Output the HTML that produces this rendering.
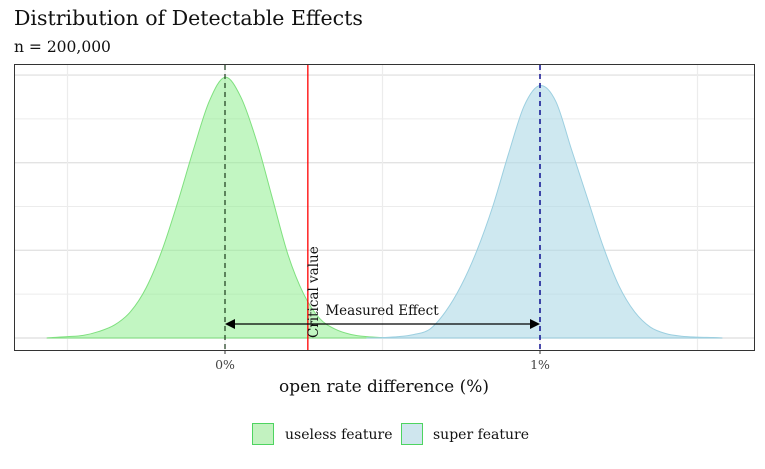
<!DOCTYPE html>
<html><head><meta charset="utf-8"><style>
body{margin:0;background:#fff;}
svg text{font-family:"DejaVu Serif","Liberation Serif",serif;}
</style></head><body>
<svg id="chart" width="765" height="464" xmlns="http://www.w3.org/2000/svg">
<text x="14" y="25" font-size="20.5" fill="#111">Distribution of Detectable Effects</text>
<text x="14" y="52" font-size="15.5" fill="#111">n = 200,000</text>
<g id="grid"></g>
<g id="marks"></g>
<rect x="14.5" y="64.5" width="740" height="286" fill="none" stroke="#333" stroke-width="1"/>
<g id="axis"></g>
<text x="384" y="392" font-size="17" text-anchor="middle" fill="#111">open rate difference (%)</text>
<g>
<rect x="252.5" y="423.5" width="21" height="21" fill="#c2f2c0" stroke="#4ed460"/>
<text x="285" y="439" font-size="14" fill="#111">useless feature</text>
<rect x="401.5" y="423.5" width="21" height="21" fill="#cfe6ee" stroke="#4ed460"/>
<text x="433" y="439" font-size="14" fill="#111">super feature</text>
</g>
</svg>
<script>
const xUseless=[-0.565,-0.55,-0.5,-0.45,-0.4,-0.35,-0.3,-0.25,-0.2,-0.15,-0.1,-0.05,0,0.05,0.1,0.15,0.2,0.25,0.3,0.35,0.4,0.45,0.5,0.55];
const yUseless=[0,0.01,0.03,0.06,0.15,0.3,0.6,1.15,2.0,3.1,4.3,5.4,5.95,5.5,4.5,3.2,1.9,1.0,0.45,0.2,0.08,0.03,0.01,0];
const xSuper=[0.45,0.5,0.55,0.6,0.65,0.7,0.75,0.8,0.85,0.9,0.95,1.0,1.05,1.1,1.15,1.2,1.25,1.3,1.35,1.4,1.45,1.5,1.55,1.578];
const ySuper=[0,0.01,0.03,0.08,0.2,0.6,1.2,2.0,3.0,4.2,5.3,5.76,5.4,4.3,3.2,2.1,1.2,0.6,0.25,0.1,0.04,0.02,0.01,0];
const xTicks=[0,1];
const xTickLabels=["0%","1%"];
const xMinor=[-0.5,0.5,1.5];
const yGrid=[0,1,2,3,4,5,6];
const criticalValue=0.263;
const nullMean=0;
const altMean=1;

const sx=v=>225+v*315;
const sy=v=>338-v*43.83;
const NS="http://www.w3.org/2000/svg";
function mk(tag,parent,attrs){const e=document.createElementNS(NS,tag);for(const k in attrs)e.setAttribute(k,attrs[k]);parent.appendChild(e);return e;}
const grid=document.getElementById('grid'),marks=document.getElementById('marks'),axis=document.getElementById('axis');
yGrid.forEach((g,i)=>{const l=mk('line',grid,{x1:15,x2:754,y1:sy(g),y2:sy(g),stroke:i%2?'#ececec':'#e3e3e3','stroke-width':i%2?1:1.4});

});
xMinor.concat(xTicks).forEach(v=>{const l=mk('line',grid,{x1:sx(v),x2:sx(v),y1:65,y2:350,stroke:'#ececec','stroke-width':1.2});

});
function area(xs,ys,fill,stroke,name){
 const P=xs.map((x,i)=>[sx(x),sy(ys[i])]);
 let d='M'+sx(xs[0])+','+sy(0)+' L'+P[0][0]+','+P[0][1];
 for(let i=0;i<P.length-1;i++){
  const p0=P[Math.max(0,i-1)],p1=P[i],p2=P[i+1],p3=P[Math.min(P.length-1,i+2)];
  const c1=[p1[0]+(p2[0]-p0[0])/6,Math.min(sy(0),p1[1]+(p2[1]-p0[1])/6)];
  const c2=[p2[0]-(p3[0]-p1[0])/6,Math.min(sy(0),p2[1]-(p3[1]-p1[1])/6)];
  d+=` C${c1[0]},${c1[1]} ${c2[0]},${c2[1]} ${p2[0]},${p2[1]}`;
 }
 d+=' L'+sx(xs[xs.length-1])+','+sy(0)+' Z';
 const p=mk('path',marks,{d:d,fill:fill,stroke:stroke,'stroke-width':1,'stroke-linejoin':'round'});
 
 
}
area(xUseless,yUseless,'rgba(144,238,144,0.55)','#7fe07f','density-useless');
area(xSuper,ySuper,'rgba(173,216,230,0.6)','#9ccfe0','density-super');
const l1=mk('line',marks,{x1:sx(nullMean),x2:sx(nullMean),y1:65,y2:350,stroke:'#1a3a1a','stroke-width':1.2,'stroke-dasharray':'5,4'});


const l2=mk('line',marks,{x1:sx(altMean),x2:sx(altMean),y1:65,y2:350,stroke:'#00008b','stroke-width':1.4,'stroke-dasharray':'5,4'});


const l3=mk('line',marks,{x1:sx(criticalValue),x2:sx(criticalValue),y1:65,y2:350,stroke:'#ff0000','stroke-width':1.3});


const ay=324;
const ar=mk('line',marks,{x1:sx(nullMean)+8,x2:sx(altMean)-8,y1:ay,y2:ay,stroke:'#000','stroke-width':1.2});


const h1=mk('polygon',marks,{points:`${sx(nullMean)},${ay} ${sx(nullMean)+10},${ay-5} ${sx(nullMean)+10},${ay+5}`,fill:'#000'});


const h2=mk('polygon',marks,{points:`${sx(altMean)},${ay} ${sx(altMean)-10},${ay-5} ${sx(altMean)-10},${ay+5}`,fill:'#000'});


const t1=mk('text',marks,{x:382,y:315,'font-size':13.5,'text-anchor':'middle',fill:'#111'});
t1.textContent='Measured Effect';


const cx=sx(criticalValue)+10;
const t2=mk('text',marks,{x:cx,y:338,'font-size':13.5,fill:'#111',transform:`rotate(-90 ${cx} 338)`});
t2.textContent='Critical value';


xTicks.forEach((v,i)=>{
 const tk=mk('line',axis,{x1:sx(v),x2:sx(v),y1:350,y2:354,stroke:'#333'});
 
 
 const t=mk('text',axis,{x:sx(v),y:369,'font-size':12.5,'text-anchor':'middle',fill:'#444'});
 t.textContent=xTickLabels[i];
 
 
});
</script>
</body></html>
